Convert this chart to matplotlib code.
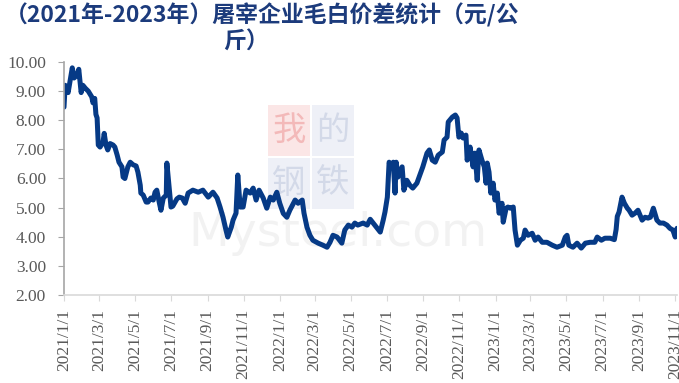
import pandas as pd
import matplotlib
matplotlib.use("Agg")
import matplotlib.pyplot as plt
from matplotlib.patches import Rectangle

plt.rcParams['font.family'] = ['Noto Sans CJK SC', 'DejaVu Sans']

# title, split the way the chart wraps it
TITLE_1 = "（2021年-2023年）屠宰企业毛白价差统计（元/公"
TITLE_2 = "斤）"

START = pd.Timestamp("2021-01-01")
END_DAY = 1037

# days since 2021/1/1 and the spread (yuan/kg)
days = [0, 2, 7, 14, 17, 22, 25, 29, 32, 36, 41, 47, 49, 52, 54, 56, 58, 61, 66, 68,
        71, 74, 78, 83, 86, 90, 93, 98, 100, 103, 108, 112, 117, 122, 125, 129, 130, 134, 139, 142,
        147, 151, 154, 157, 161, 164, 168, 173, 174, 178, 181, 184, 191, 195, 200, 205, 210, 218, 227, 235,
        244, 252, 259, 264, 269, 274, 277, 283, 286, 291, 294, 298, 303, 308, 315, 320, 325, 330, 337, 343,
        349, 354, 360, 365, 371, 377, 382, 391, 396, 403, 406, 411, 416, 421, 430, 438, 445, 450, 455, 462,
        470, 475, 481, 487, 492, 497, 506, 513, 518, 523, 530, 535, 540, 543, 547, 550, 553, 557, 560, 562,
        565, 572, 575, 580, 585, 590, 597, 602, 607, 614, 618, 623, 628, 633, 640, 643, 648, 650, 657, 662,
        665, 668, 672, 675, 680, 682, 687, 692, 695, 699, 702, 707, 711, 714, 716, 719, 722, 726, 729, 733,
        736, 741, 743, 748, 751, 755, 760, 763, 767, 772, 777, 780, 785, 792, 797, 802, 809, 817, 826, 834,
        843, 848, 851, 854, 861, 868, 875, 882, 890, 898, 902, 909, 915, 924, 931, 934, 936, 939, 944, 948,
        953, 956, 961, 966, 971, 978, 983, 988, 992, 997, 1003, 1008, 1014, 1020, 1025, 1030, 1034, 1037]
spread = [8.45, 9.20, 8.95, 9.80, 9.45, 9.55, 9.75, 8.95, 9.20, 9.10, 9.00, 8.80, 8.60, 8.75, 8.20, 8.08, 7.15, 7.08, 7.25, 7.55,
          7.15, 6.98, 7.20, 7.15, 7.08, 6.80, 6.56, 6.40, 6.05, 6.00, 6.40, 6.56, 6.47, 6.43, 6.22, 5.77, 5.50, 5.43, 5.19, 5.19,
          5.33, 5.26, 5.53, 5.60, 5.19, 4.91, 5.33, 5.43, 6.53, 5.67, 5.02, 5.05, 5.30, 5.36, 5.33, 5.15, 5.50, 5.60, 5.53, 5.60,
          5.36, 5.53, 5.33, 5.02, 4.67, 4.23, 3.99, 4.33, 4.57, 4.81, 6.12, 5.02, 5.02, 5.60, 5.50, 5.67, 5.26, 5.60, 5.33, 4.98,
          5.36, 5.26, 5.53, 5.15, 4.80, 4.67, 4.91, 5.26, 5.15, 5.26, 4.81, 4.33, 4.05, 3.88, 3.78, 3.71, 3.64, 3.81, 4.05, 3.99,
          3.78, 4.23, 4.40, 4.33, 4.47, 4.40, 4.47, 4.40, 4.60, 4.47, 4.29, 4.16, 4.57, 4.85, 5.36, 6.56, 6.40, 6.56, 5.50, 6.56,
          6.05, 6.40, 5.60, 5.94, 5.77, 5.67, 5.84, 6.12, 6.40, 6.87, 6.98, 6.63, 6.56, 6.80, 6.91, 7.32, 7.42, 7.94, 8.11, 8.18,
          8.08, 7.42, 7.56, 7.39, 7.49, 6.63, 7.08, 6.40, 6.87, 5.94, 6.98, 6.63, 6.40, 5.84, 6.53, 6.22, 5.50, 5.84, 5.26, 5.50,
          4.81, 5.15, 4.50, 4.98, 5.02, 4.98, 5.02, 4.23, 3.71, 3.88, 3.95, 4.23, 4.05, 4.12, 3.88, 3.99, 3.81, 3.81, 3.71, 3.64,
          3.71, 3.99, 4.05, 3.71, 3.64, 3.78, 3.61, 3.78, 3.81, 3.81, 3.99, 3.88, 3.95, 3.95, 3.90, 4.25, 4.70, 4.85, 5.36, 5.15,
          4.98, 4.91, 4.74, 4.81, 4.91, 4.57, 4.67, 4.64, 4.67, 4.98, 4.57, 4.47, 4.47, 4.40, 4.29, 4.23, 3.99, 4.29]

Y_TICKS = [2, 3, 4, 5, 6, 7, 8, 9, 10]
tick_dates = pd.date_range("2021-01-01", "2023-11-01", freq="2MS")

LINE_COLOR = "#063a86"
TITLE_COLOR = "#1c3b7c"
LABEL_COLOR = "#595959"

dates = START + pd.to_timedelta(days, unit="D")

fig = plt.figure(figsize=(6.79, 3.83), dpi=100)
ax = fig.add_axes([64 / 679, 1 - 295 / 383, 613 / 679, 233 / 383])
ax.patch.set_visible(False)

# faint watermark behind the plot
wm = [("我", 268, 105, "#fbe6e6", "#f3b9b9"), ("的", 312, 105, "#eef0f7", "#d3d9e8"),
      ("钢", 268, 158, "#eef0f7", "#d3d9e8"), ("铁", 312, 158, "#eef0f7", "#d3d9e8")]
for ch, px, py, bg, fg in wm:
    fig.patches.append(Rectangle((px / 679, 1 - (py + 51) / 383), 42 / 679, 51 / 383,
                                 transform=fig.transFigure, facecolor=bg, edgecolor="none", zorder=-2))
    fig.text((px + 21) / 679, 1 - (py + 25) / 383, ch, ha="center", va="center",
             fontsize=24, color=fg, zorder=-1)
fig.text(338 / 679, 1 - 233 / 383, "Mysteel.com", ha="center", va="center",
         fontsize=34, color="#f2f2f2", family="DejaVu Sans", zorder=-1)

ax.plot(dates, spread, color=LINE_COLOR, linewidth=3.6, solid_joinstyle="round",
        solid_capstyle="round")

ax.set_xlim(START, START + pd.Timedelta(days=END_DAY))
ax.set_ylim(2, 10)
ax.set_yticks(Y_TICKS)
ax.set_yticklabels([f"{v:.2f}" for v in Y_TICKS], family="Liberation Serif",
                   fontsize=12.5, color=LABEL_COLOR)
ax.set_xticks(tick_dates)
ax.set_xticklabels([f"{d.year}/{d.month}/{d.day}" for d in tick_dates], rotation=90,
                   family="Liberation Serif", fontsize=12.5, color=LABEL_COLOR,
                   ha="center", va="top")

for s in ["top", "right"]:
    ax.spines[s].set_visible(False)
ax.spines["left"].set_color("#a6a6a6")
ax.spines["bottom"].set_color("#d9d9d9")
ax.spines["left"].set_linewidth(1.2)
ax.spines["bottom"].set_linewidth(1.2)
ax.tick_params(axis="y", direction="out", length=4, color="#a6a6a6", pad=9)
ax.tick_params(axis="x", direction="out", length=4, color="#d9d9d9", pad=6)

fig.text(262 / 679, 1 - 15 / 383, TITLE_1, ha="center", va="center", fontsize=16.5,
         fontweight="bold", color=TITLE_COLOR)
fig.text(246 / 679, 1 - 42 / 383, TITLE_2, ha="center", va="center", fontsize=16.5,
         fontweight="bold", color=TITLE_COLOR)

fig.savefig("out.png", dpi=100)
